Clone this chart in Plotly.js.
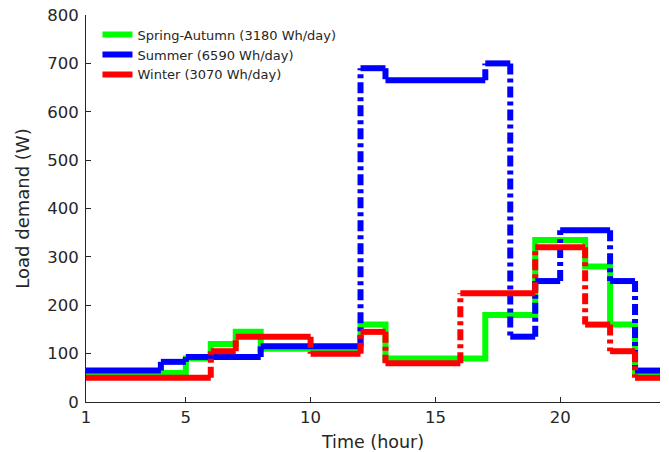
<!DOCTYPE html>
<html>
<head>
<meta charset="utf-8">
<script src="https://cdn.plot.ly/plotly-3.0.1.min.js"></script>
<style>html,body{margin:0;padding:0;background:#fff}#chart{width:669px;height:452px}</style>
</head>
<body>
<div id="chart"></div>
<script>
// Hours of the day
const hours = [1,2,3,4,5,6,7,8,9,10,11,12,13,14,15,16,17,18,19,20,21,22,23,24];
// Series names (legend)
const seriesNames = ['Spring-Autumn (3180 Wh/day)', 'Summer (6590 Wh/day)', 'Winter (3070 Wh/day)'];
// Load demand (W) per hour
const springAutumn = [60,60,60,60,90,120,145,110,110,110,110,160,90,90,90,90,180,180,335,335,280,160,60,60];
const summer       = [65,65,65,83,93,93,93,115,115,115,115,690,665,665,665,665,700,135,250,355,355,250,65,65];
const winter       = [50,50,50,50,50,105,135,135,135,100,100,145,80,80,80,225,225,225,320,320,160,105,50,50];
// Axis ticks
const xTicks = [1,5,10,15,20,24];
const yTicks = [0,100,200,300,400,500,600,700,800];

// split a step series into horizontal and vertical pieces
function stepSegments(x, y) {
  const hx = [], hy = [], vx = [], vy = [];
  let start = 0;
  for (let i = 1; i < x.length; i++) {
    if (y[i] !== y[start]) {
      hx.push(x[start], x[i], null); hy.push(y[start], y[start], null);
      vx.push(x[i], x[i], null); vy.push(y[start], y[i], null);
      start = i;
    }
  }
  if (start < x.length - 1) { hx.push(x[start], x[x.length - 1]); hy.push(y[start], y[start]); }
  return {hx, hy, vx, vy};
}

const LW = 6;
const vDash = '11px,4px,4px,4px';
const sSum = stepSegments(hours, summer);
const sWin = stepSegments(hours, winter);

const traces = [
  {x: hours, y: springAutumn, mode: 'lines', line: {shape: 'hv', color: '#00ff00', width: LW}, name: seriesNames[0], hoverinfo: 'skip'},
  {x: sSum.hx, y: sSum.hy, mode: 'lines', line: {color: '#0000ff', width: LW}, name: seriesNames[1], legendgroup: 's', connectgaps: false, hoverinfo: 'skip'},
  {x: sSum.vx, y: sSum.vy, mode: 'lines', line: {color: '#0000ff', width: LW, dash: vDash}, showlegend: false, legendgroup: 's', connectgaps: false, hoverinfo: 'skip'},
  {x: sWin.hx, y: sWin.hy, mode: 'lines', line: {color: '#ff0000', width: LW}, name: seriesNames[2], legendgroup: 'w', connectgaps: false, hoverinfo: 'skip'},
  {x: sWin.vx, y: sWin.vy, mode: 'lines', line: {color: '#ff0000', width: LW, dash: vDash}, showlegend: false, legendgroup: 'w', connectgaps: false, hoverinfo: 'skip'}
];

const axisCommon = {
  ticks: 'inside', ticklen: 5, tickwidth: 1, tickcolor: '#262626',
  showline: true, linecolor: '#262626', linewidth: 1,
  showgrid: false, zeroline: false, mirror: false,
  tickfont: {family: 'DejaVu Sans', size: 16.5, color: '#262626'}
};

const layout = {
  width: 669, height: 452,
  margin: {l: 86, r: 9, t: 15, b: 50},
  paper_bgcolor: '#ffffff', plot_bgcolor: '#ffffff',
  font: {family: 'DejaVu Sans', size: 15, color: '#262626'},
  showlegend: true,
  legend: {x: 0.02, y: 0.988, xanchor: 'left', yanchor: 'top', bgcolor: 'rgba(0,0,0,0)',
           font: {family: 'DejaVu Sans', size: 13, color: '#262626'}, tracegroupgap: 0, itemwidth: 30},
  xaxis: Object.assign({}, axisCommon, {
    range: [1, 24], tickmode: 'array', tickvals: xTicks, ticktext: xTicks.map(String),
    title: {text: 'Time (hour)', font: {family: 'DejaVu Sans', size: 17.5, color: '#262626'}, standoff: 9}
  }),
  yaxis: Object.assign({}, axisCommon, {
    range: [0, 800], tickmode: 'array', tickvals: yTicks, ticktext: yTicks.map(String),
    ticklabelstandoff: 3,
    title: {text: 'Load demand (W)', font: {family: 'DejaVu Sans', size: 18, color: '#262626'}, standoff: 12}
  })
};

Plotly.newPlot('chart', traces, layout, {displayModeBar: false, staticPlot: true});
</script>
</body>
</html>
